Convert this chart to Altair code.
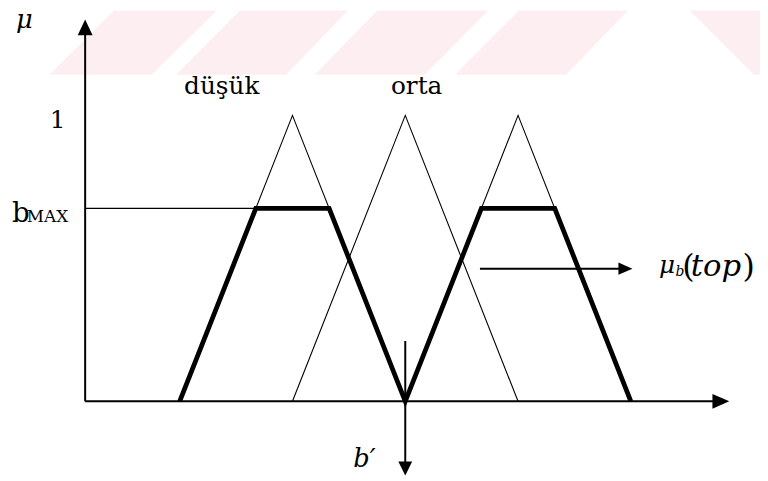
import altair as alt
import pandas as pd

# ---------------- data (universe-of-discourse units, membership 0..1) -------------
tri_id = ["düşük", "orta", "üçüncü"]
tri_left = [1.0, 2.0, 3.0]
tri_peak = [2.0, 3.0, 4.0]
tri_right = [3.0, 4.0, 5.0]

bold_x = [1.0, 1.675, 2.325, 3.0, 3.675, 4.325, 5.0]
bold_y = [0.0, 0.675, 0.675, 0.0, 0.675, 0.675, 0.0]

rule_name = ["mu_axis", "b_axis", "bmax", "mu_b", "b_prime"]
rule_x = [0.162, 0.162, 0.162, 3.662, 3.0]
rule_x2 = [0.162, 5.79, 1.675, 4.92, 3.0]
rule_y = [0.0, 0.0, 0.675, 0.464, 0.211]
rule_y2 = [1.30, 0.0, 0.675, 0.464, -0.22]
rule_w = [2.0, 2.0, 1.2, 2.0, 2.0]

UP = "M0,-1L0.94,1L-0.94,1Z"
RIGHT = "M-1,-0.88L1,0L-1,0.88Z"
DOWN = "M-1,-1L1,-1L0,1Z"
head_x = [0.162, 5.798, 4.952, 3.0]
head_y = [1.308, 0.0, 0.464, -0.235]
head_shape = [UP, RIGHT, RIGHT, DOWN]
head_size = [256, 289, 200, 196]

txt_text = ["μ", "düşük", "orta", "1", "b", "MAX", "b′", "μ", "b", "(", "top", ")"]
txt_x = [-0.452, 1.373, 3.101, -0.083, -0.487, -0.355, 2.539, 5.250, 5.395, 5.455, 5.530, 5.990]
txt_y = [1.305, 1.076, 1.076, 0.955, 0.626, 0.626, -0.228, 0.450, 0.440, 0.436, 0.439, 0.436]
txt_size = [26, 25, 25, 25, 28, 17, 26, 25, 14, 32, 31, 32]
txt_style = ["italic", "normal", "normal", "normal", "normal", "normal", "italic",
             "italic", "italic", "normal", "italic", "normal"]
txt_align = ["left", "center", "center", "center", "left", "left", "left",
             "left", "left", "left", "left", "left"]

wm_id = ["s1", "s2", "s3", "s4", "s5"]
wm_bot_l = [-0.154, 0.969, 2.197, 3.443, 6.092]
wm_bot_r = [0.750, 1.943, 3.171, 4.425, 6.425]
wm_top_l = [0.487, 1.601, 2.820, 4.075, 5.452]
wm_top_r = [1.399, 2.557, 3.803, 5.040, 6.425]
wm_y_bot = 1.142
wm_y_top = 1.394

SERIF = "DejaVu Serif"

# ---------------- tables ------------------------------------------------------------
tri_rows = []
for i, name in enumerate(tri_id):
    for k, (xv, yv) in enumerate([(tri_left[i], 0.0), (tri_peak[i], 1.0), (tri_right[i], 0.0)]):
        tri_rows.append({"id": name, "o": k, "x": xv, "y": yv})
tri_df = pd.DataFrame(tri_rows)

bold_df = pd.DataFrame({"o": list(range(len(bold_x))), "x": bold_x, "y": bold_y})

rule_df = pd.DataFrame({"name": rule_name, "x": rule_x, "x2": rule_x2,
                        "y": rule_y, "y2": rule_y2, "w": rule_w})

head_df = pd.DataFrame({"x": head_x, "y": head_y, "shape": head_shape, "size": head_size})

txt_df = pd.DataFrame({"text": txt_text, "x": txt_x, "y": txt_y, "size": txt_size,
                       "style": txt_style, "align": txt_align})

wm_rows = []
for i, s in enumerate(wm_id):
    wm_rows.append({"id": s, "y": wm_y_bot, "xl": wm_bot_l[i], "xr": wm_bot_r[i]})
    wm_rows.append({"id": s, "y": wm_y_top, "xl": wm_top_l[i], "xr": wm_top_r[i]})
wm_df = pd.DataFrame(wm_rows)

xs = alt.Scale(domain=[-0.522, 6.145], nice=False, zero=False)
ys = alt.Scale(domain=[-0.270, 1.367], nice=False, zero=False)

X = lambda f="x": alt.X(f"{f}:Q", scale=xs, axis=None)
Y = lambda f="y": alt.Y(f"{f}:Q", scale=ys, axis=None)

watermark = alt.Chart(wm_df).mark_area(orient="horizontal", clip=True, color="#fdeef1").encode(
    y=Y(), x=X("xl"), x2="xr:Q", detail="id:N"
)

thin = alt.Chart(tri_df).mark_line(color="black", strokeWidth=1.1).encode(
    x=X(), y=Y(), detail="id:N", order="o:Q"
)

bold = alt.Chart(bold_df).mark_line(color="black", strokeWidth=4.8, strokeJoin="miter").encode(
    x=X(), y=Y(), order="o:Q"
)

rules = alt.Chart(rule_df).mark_rule(color="black").encode(
    x=X(), x2="x2:Q", y=Y(), y2="y2:Q",
    strokeWidth=alt.StrokeWidth("w:Q", scale=None)
)

heads = alt.Chart(head_df).mark_point(filled=True, color="black", opacity=1, strokeWidth=0).encode(
    x=X(), y=Y(),
    shape=alt.Shape("shape:N", scale=None),
    size=alt.Size("size:Q", scale=None)
)


def text_layer(style, align):
    return alt.Chart(txt_df).transform_filter(
        (alt.datum.style == style) & (alt.datum.align == align)
    ).mark_text(font=SERIF, fontStyle=style, align=align,
                baseline="alphabetic", color="black").encode(
        x=X(), y=Y(), text="text:N", size=alt.Size("size:Q", scale=None)
    )


chart = alt.layer(
    watermark, thin, bold, rules, heads,
    text_layer("normal", "left"), text_layer("normal", "center"), text_layer("italic", "left")
).properties(
    width=760, height=473, autosize="none", padding=0, background="white"
).configure_view(stroke=None)

chart.save("out.html", embed_options={"renderer": "svg", "actions": False})
